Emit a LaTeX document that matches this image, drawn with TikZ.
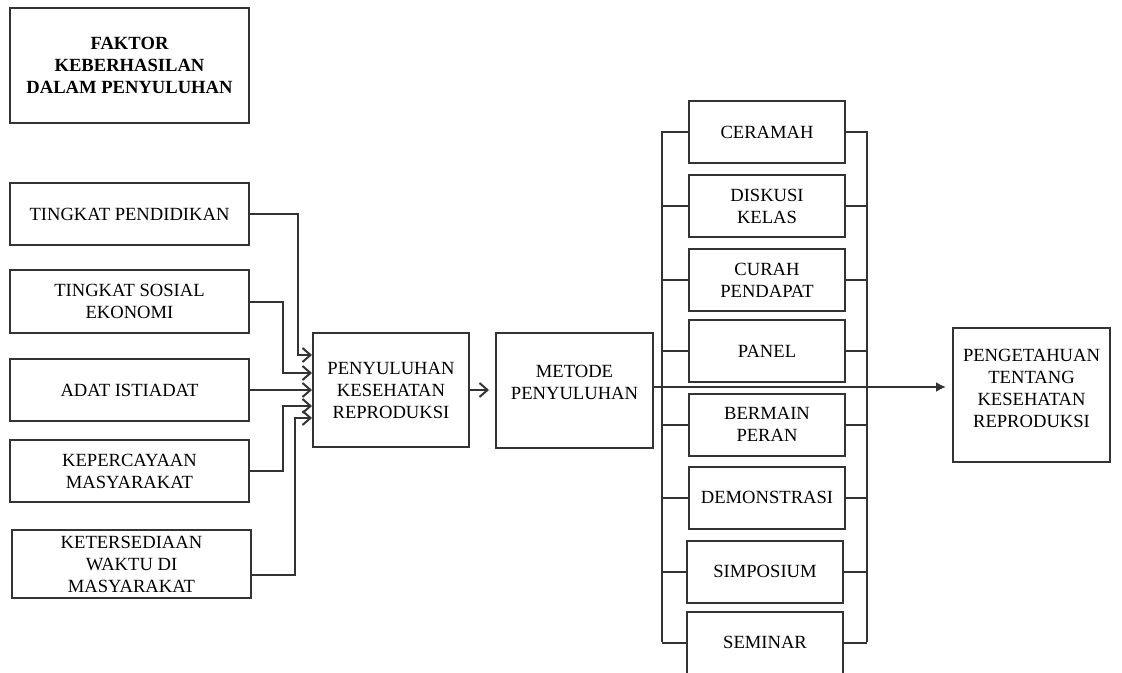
\documentclass[tikz,border=0pt]{standalone}
\usepackage{fontspec}
\setmainfont{Liberation Serif}
\usetikzlibrary{calc,arrows.meta}

\begin{document}
\begin{tikzpicture}[x=0.5pt,y=-0.5pt,
    line width=1pt, draw=black!80,
    box/.style={draw, align=center, inner sep=0pt, font=\fontsize{9.3}{11}\selectfont,
        minimum width=78pt, minimum height=31pt},
    wide/.style={minimum width=119.5pt},
    >={Straight Barb[length=4pt,width=7pt]}]

    \useasboundingbox (0,0) rectangle (1122,673);

    % Title
    \node[box, wide, minimum height=57.5pt, font=\fontsize{9.3}{11}\selectfont\bfseries] (title) at (129.5,65.5)
        {FAKTOR\\KEBERHASILAN\\DALAM PENYULUHAN};

    % Factors
    \node[box, wide] (pendidikan) at (129.5,214) {TINGKAT PENDIDIKAN};
    \node[box, wide, minimum height=31.5pt] (sosial) at (129.5,301.5) {TINGKAT SOSIAL\\EKONOMI};
    \node[box, wide] (adat) at (129.5,390) {ADAT ISTIADAT};
    \node[box, wide] (percaya) at (129.5,471) {KEPERCAYAAN\\MASYARAKAT};
    \node[box, wide, minimum height=34pt] (waktu) at (131.5,564) {KETERSEDIAAN\\WAKTU DI\\MASYARAKAT};

    % Middle
    \node[box, minimum height=57pt] (pkr) at (391,390) {PENYULUHAN\\KESEHATAN\\REPRODUKSI};
    \node[box, minimum width=78.5pt, minimum height=57.5pt] (metode) at (574.5,390)
        {METODE\\PENYULUHAN\\[-3pt]};
    \node[box, minimum width=78.5pt, minimum height=67pt] (hasil) at (1031.5,395)
        {PENGETAHUAN\\TENTANG\\KESEHATAN\\REPRODUKSI\\[-4pt]};

    % Methods
    \node[box] (ceramah) at (767,132.5) {CERAMAH};
    \node[box] (diskusi) at (767,206.5) {DISKUSI\\KELAS};
    \node[box] (curah) at (767,280) {CURAH\\PENDAPAT};
    \node[box] (panel) at (767,351) {PANEL};
    \node[box] (peran) at (767,424.5) {BERMAIN\\PERAN};
    \node[box] (demo) at (767,497.5) {DEMONSTRASI};
    \node[box] (simposium) at (765,571.5) {SIMPOSIUM};
    \node[box] (seminar) at (765,642.5) {SEMINAR};

    % Buses
    \coordinate (ltop) at (662,131);
    \coordinate (lbot) at (662,642);
    \coordinate (rtop) at (867,131);
    \coordinate (rbot) at (867,642);
    \draw (ltop) -- (lbot);
    \draw (rtop) -- (rbot);
    \foreach \m in {ceramah,diskusi,curah,panel,peran,demo,simposium,seminar} {
        \draw (\m.west) -- (\m.west -| ltop);
        \draw (\m.east) -- (\m.east -| rtop);
    }

    % Arrows into PKR
    \draw[->] (pendidikan.east) -- ++(48,0) |- ([yshift=17.5pt]pkr.west);
    \draw[->] (sosial.east) -- ++(33,0) |- ([yshift=8.5pt]pkr.west);
    \draw[->] (adat.east) -- (pkr.west);
    \draw[->] (percaya.east) -- ++(33,0) |- ([yshift=-8pt]pkr.west);
    \draw[->] ([yshift=-5.5pt]waktu.east) -- ++(43,0) |- ([yshift=-14pt]pkr.west);

    \draw[->] (pkr.east) -- ([xshift=-3pt]metode.west);
    \draw[-{Latex[length=5pt,width=5pt]}] ([yshift=1.5pt]metode.east)
        -- ([yshift=1.5pt,xshift=-3pt]metode.east -| hasil.west);
\end{tikzpicture}
\end{document}
